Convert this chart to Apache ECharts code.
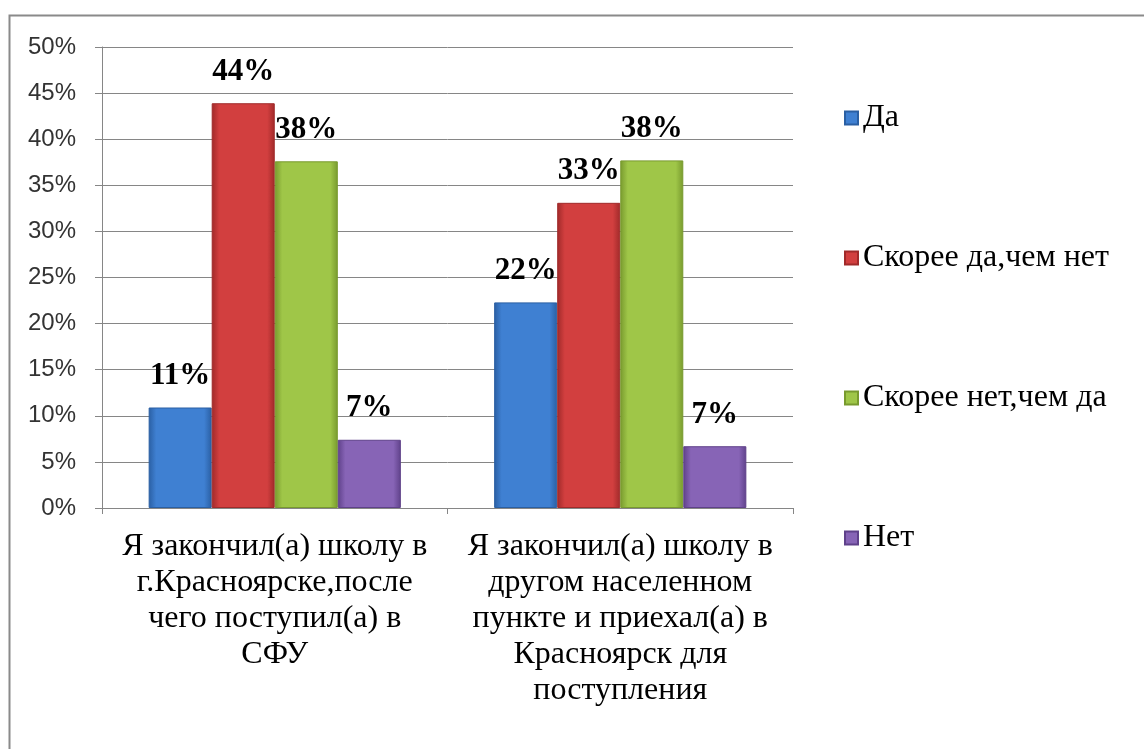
<!DOCTYPE html>
<html>
<head>
<meta charset="utf-8">
<style>html,body{margin:0;padding:0;background:#fff}#c{width:1144px;height:749px}</style>
<script src="https://cdn.jsdelivr.net/npm/echarts@6/dist/echarts.min.js"></script>
</head>
<body>
<div id="c"></div>
<script>
var categories = [
  "Я закончил(а) школу в\nг.Красноярске,после\nчего поступил(а) в\nСФУ",
  "Я закончил(а) школу в\nдругом населенном\nпункте и приехал(а) в\nКрасноярск для\nпоступления"
];
var seriesNames = ["Да", "Скорее да,чем нет", "Скорее нет,чем да", "Нет"];
var valuesDa = [10.9, 22.3];
var valuesSkDa = [43.9, 33.1];
var valuesSkNet = [37.6, 37.7];
var valuesNet = [7.4, 6.7];
var yTicks = [0, 5, 10, 15, 20, 25, 30, 35, 40, 45, 50];

var SERIF = "Liberation Serif";
var SANS = "Liberation Sans";

var palettes = [
  ["#2a5fa3", "#3f80d2", "#2a5fa3"],
  ["#a02a2a", "#d23f3f", "#a02a2a"],
  ["#789a2e", "#9fc648", "#789a2e"],
  ["#5f418a", "#8764b6", "#5f418a"]
];
function grad(p) {
  return new echarts.graphic.LinearGradient(0, 0, 1, 0, [
    {offset: 0, color: p[0]}, {offset: 0.12, color: p[1]},
    {offset: 0.88, color: p[1]}, {offset: 1, color: p[2]}
  ]);
}
var allValues = [valuesDa, valuesSkDa, valuesSkNet, valuesNet];
var series = seriesNames.map(function (name, i) {
  return {
    name: name,
    type: 'bar',
    data: allValues[i],
    barGap: '0%',
    barCategoryGap: '27%',
    itemStyle: {color: grad(palettes[i]), borderColor: palettes[i][0], borderWidth: 1},
    label: {
      show: true, position: 'top', distance: 16,
      formatter: function (p) { return Math.round(p.value) + '%'; },
      fontFamily: SERIF, fontWeight: 'bold', fontSize: 31, color: '#000'
    }
  };
});

var chart = echarts.init(document.getElementById('c'));
chart.setOption({
  animation: false,
  color: palettes.map(function (p) { return p[1]; }),
  graphic: [{
    type: 'rect', left: 7, top: 13, silent: true, z: -10,
    shape: {width: 1200, height: 800},
    style: {fill: 'none', stroke: '#8a8a8a', lineWidth: 2}
  }],
  grid: {left: 102, right: 351, top: 47, bottom: 241, containLabel: false},
  legend: {
    orient: 'vertical', left: 839, top: 97, itemGap: 108,
    itemWidth: 13, itemHeight: 13, icon: 'rect',
    data: seriesNames.map(function (n, i) { return {name: n, itemStyle: {color: grad(palettes[i])}}; }),
    textStyle: {fontFamily: SERIF, fontSize: 32, color: '#000', lineHeight: 30}
  },
  xAxis: {
    type: 'category', data: categories,
    axisLine: {lineStyle: {color: '#868686'}},
    axisTick: {show: true, length: 6, lineStyle: {color: '#868686'}},
    axisLabel: {
      fontFamily: SERIF, fontSize: 32, color: '#000',
      lineHeight: 36, margin: 21, interval: 0
    }
  },
  yAxis: {
    type: 'value', min: 0, max: 50, interval: 5,
    axisLine: {show: true, lineStyle: {color: '#868686'}},
    axisTick: {show: true, length: 7, lineStyle: {color: '#868686'}},
    splitLine: {lineStyle: {color: '#868686'}},
    axisLabel: {
      fontFamily: SANS, fontSize: 24, color: '#333', margin: 26,
      formatter: function (v) { return yTicks.indexOf(v) >= 0 ? v + '%' : ''; }
    }
  },
  series: series
});
</script>
</body>
</html>
